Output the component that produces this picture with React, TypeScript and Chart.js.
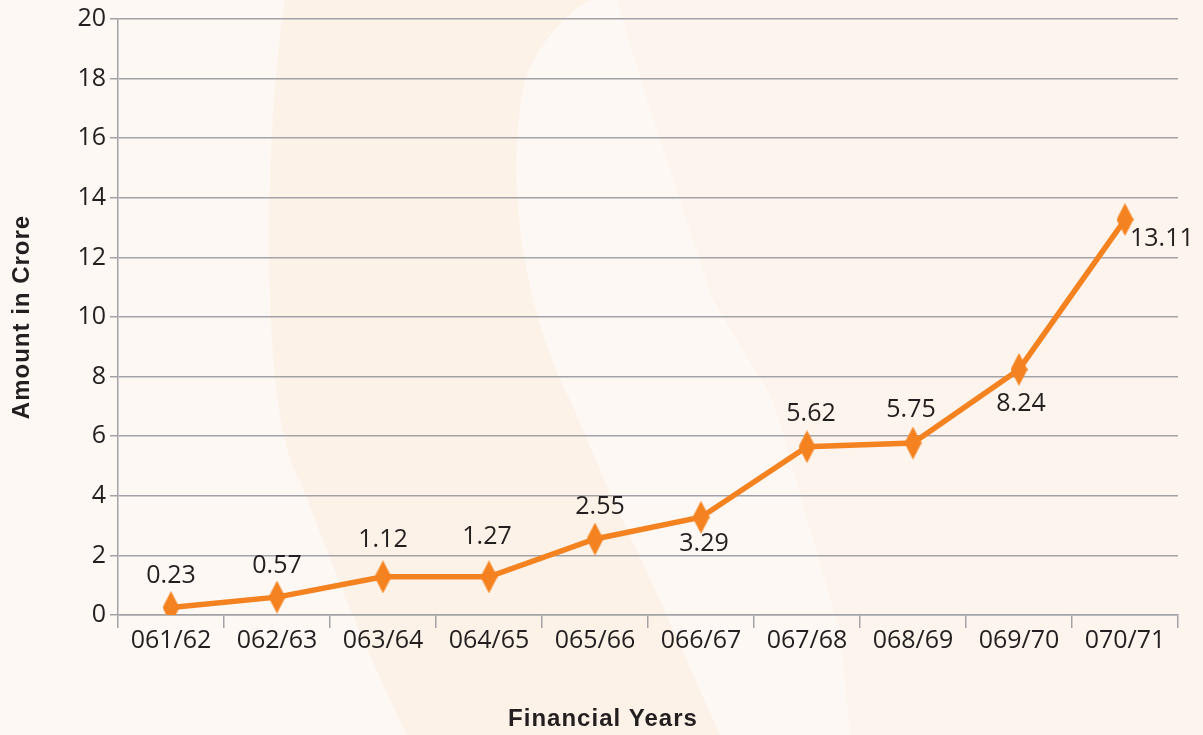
import React, { useEffect, useRef } from "react";
import { Chart, registerables } from "chart.js";

Chart.register(...registerables);

const categories = ["061/62", "062/63", "063/64", "064/65", "065/66", "066/67", "067/68", "068/69", "069/70", "070/71"];
const plottedValues = [0.25, 0.6, 1.28, 1.28, 2.55, 3.28, 5.65, 5.77, 8.24, 13.27];
const valueLabels = ["0.23", "0.57", "1.12", "1.27", "2.55", "3.29", "5.62", "5.75", "8.24", "13.11"];
const yTicks = [0, 2, 4, 6, 8, 10, 12, 14, 16, 18, 20];
const xTitle = "Financial Years";
const yTitle = "Amount in Crore";

const ORANGE = "#f58220";
const TEXT = "#231f20";
const GRID = "#a3a3a7";
const FONT = "'Open Sans', 'Noto Sans', sans-serif";
const TITLE_FONT = "bold 24px 'Liberation Sans', Arial, sans-serif";

function makeDiamond(): HTMLCanvasElement {
  const c = document.createElement("canvas");
  c.width = 17;
  c.height = 33;
  const g = c.getContext("2d")!;
  g.fillStyle = ORANGE;
  g.beginPath();
  g.moveTo(8.5, 0);
  g.lineTo(17, 16.5);
  g.lineTo(8.5, 33);
  g.lineTo(0, 16.5);
  g.closePath();
  g.fill();
  return c;
}

const backgroundPlugin = {
  id: "bgShapes",
  beforeDraw(chart: any) {
    const { ctx, width, height } = chart;
    ctx.save();
    ctx.fillStyle = "#fdf8f3";
    ctx.fillRect(0, 0, width, height);
    // right watermark region
    ctx.fillStyle = "#fdf5ed";
    ctx.beginPath();
    ctx.moveTo(285, 0);
    ctx.bezierCurveTo(262, 150, 262, 420, 300, 480);
    ctx.bezierCurveTo(330, 560, 370, 660, 407, height);
    ctx.lineTo(width, height);
    ctx.lineTo(width, 0);
    ctx.closePath();
    ctx.fill();
    // darker left band
    ctx.fillStyle = "#fdf2e7";
    ctx.beginPath();
    ctx.moveTo(285, 0);
    ctx.bezierCurveTo(262, 150, 262, 420, 300, 480);
    ctx.bezierCurveTo(330, 560, 370, 660, 407, height);
    ctx.lineTo(720, height);
    ctx.lineTo(660, 600);
    ctx.lineTo(613, 500);
    ctx.lineTo(570, 400);
    ctx.bezierCurveTo(520, 300, 505, 170, 525, 80);
    ctx.bezierCurveTo(540, 40, 565, 15, 590, 0);
    ctx.closePath();
    ctx.fill();
    // light crescent
    ctx.fillStyle = "#fdf8f3";
    ctx.beginPath();
    ctx.moveTo(590, 0);
    ctx.bezierCurveTo(565, 15, 540, 40, 525, 80);
    ctx.bezierCurveTo(505, 170, 520, 300, 570, 400);
    ctx.lineTo(613, 500);
    ctx.lineTo(660, 600);
    ctx.lineTo(720, height);
    ctx.lineTo(850, height);
    ctx.lineTo(840, 633);
    ctx.lineTo(773, 400);
    ctx.lineTo(713, 300);
    ctx.lineTo(680, 200);
    ctx.lineTo(647, 100);
    ctx.lineTo(617, 0);
    ctx.closePath();
    ctx.fill();
    ctx.restore();
  },
};

const labelPlugin = {
  id: "valueLabels",
  afterDatasetsDraw(chart: any, _args: any, opts: any) {
    const { ctx } = chart;
    const meta = chart.getDatasetMeta(0);
    ctx.save();
    ctx.font = opts.font;
    ctx.fillStyle = opts.color;
    ctx.textBaseline = "middle";
    meta.data.forEach((pt: any, i: number) => {
      const off = opts.offsets[i];
      ctx.textAlign = off[2] || "center";
      ctx.fillText(valueLabels[i], pt.x + off[0], pt.y + off[1]);
    });
    ctx.restore();
  },
};

const titlesPlugin = {
  id: "axisTitles",
  afterDraw(chart: any) {
    const { ctx, chartArea } = chart;
    ctx.save();
    ctx.font = TITLE_FONT;
    ctx.fillStyle = TEXT;
    ctx.textAlign = "center";
    ctx.textBaseline = "middle";
    (ctx as any).letterSpacing = "1px";
    ctx.fillText(xTitle, (chartArea.left + chartArea.right) / 2 - 45, 719);
    ctx.translate(22, (chartArea.top + chartArea.bottom) / 2);
    ctx.rotate(-Math.PI / 2);
    ctx.fillText(yTitle, 0, 0);
    ctx.restore();
  },
};

export default function App() {
  const ref = useRef<HTMLCanvasElement>(null);
  useEffect(() => {
    document.body.style.margin = "0";
    const chart = new Chart(ref.current!, {
      type: "line",
      data: {
        labels: categories,
        datasets: [
          {
            data: plottedValues,
            borderColor: ORANGE,
            backgroundColor: ORANGE,
            borderWidth: 5.5,
            pointStyle: makeDiamond() as any,
            pointRadius: 10,
            tension: 0,
          },
        ],
      },
      plugins: [backgroundPlugin, labelPlugin, titlesPlugin],
      options: {
        responsive: false,
        animation: false,
        layout: { padding: { top: 19, right: 25, left: 0, bottom: 0 } },
        plugins: {
          legend: { display: false },
          tooltip: { enabled: false },
          valueLabels: {
            font: `25px ${FONT}`,
            color: TEXT,
            offsets: [
              [0, -32], [0, -31], [0, -37], [-2, -40], [5, -32],
              [3, 27], [4, -33], [-2, -33], [2, 34], [5, 19, "left"],
            ],
          },
        } as any,
        scales: {
          x: {
            offset: true,
            grid: {
              offset: true,
              drawOnChartArea: false,
              drawTicks: true,
              tickLength: 13,
              color: GRID,
              lineWidth: 1.5,
            },
            border: { color: GRID, width: 1.5 },
            ticks: { color: TEXT, font: { family: FONT, size: 25 }, padding: -2, maxRotation: 0 },
            afterFit(scale: any) {
              scale.height = 120;
            },
          },
          y: {
            min: 0,
            max: 20,
            afterBuildTicks(scale: any) {
              scale.ticks = yTicks.map((v) => ({ value: v }));
            },
            grid: { color: GRID, lineWidth: 1.5, tickLength: 8 },
            border: { color: GRID, width: 1.5 },
            ticks: { color: TEXT, font: { family: FONT, size: 25 }, padding: 4 },
            afterFit(scale: any) {
              scale.width = 118;
            },
          },
        },
      } as any,
    });
    return () => chart.destroy();
  }, []);
  return (
    <div style={{ position: "absolute", left: 0, top: 0, width: 1203, height: 735 }}>
      <canvas ref={ref} width={1203} height={735} />
    </div>
  );
}
